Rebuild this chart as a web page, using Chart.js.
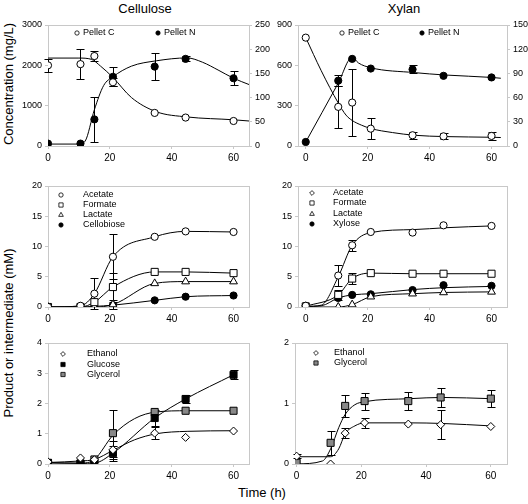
<!DOCTYPE html>
<html>
<head>
<meta charset="utf-8">
<script src="https://cdn.jsdelivr.net/npm/chart.js@4.4.0/dist/chart.umd.min.js"></script>
<style>
  body { margin: 0; background: #fff; width: 528px; height: 504px; overflow: hidden; position: relative;
         font-family: "Liberation Sans", Arial, sans-serif; }
  canvas { position: absolute; }
  .lbl { position: absolute; font-size: 13px; color: #000; white-space: nowrap; transform: translate(-50%, -50%); }
  .rot { transform: translate(-50%, -50%) rotate(-90deg); }
</style>
</head>
<body>
<div class="lbl" style="left:145px;top:8px">Cellulose</div>
<div class="lbl" style="left:404px;top:8px">Xylan</div>
<div class="lbl rot" style="left:8px;top:84px">Concentration (mg/L)</div>
<div class="lbl rot" style="left:8px;top:333px">Product or intermediate (mM)</div>
<div class="lbl" style="left:262px;top:492px">Time (h)</div>
<script>
// sampling times (h)
const times = [0, 10.5, 15, 21, 34.5, 44.5, 60];
const xTicks = [0, 20, 40, 60];

// Cellulose - pellet (left axis mg/L C, right axis mg/L N)
const celPelletC = [2000, 2030, 2230, 1580, 820, 705, 620];
const celPelletCErr = [155, 365, 130, 100, 0, 0, 0];
const celPelletN = [5, 5, 55, 143, 164, 180, 140];
const celPelletNErr = [0, 0, 47, 20, 28, 5, 14];
const celFitCx = [0, 10, 14, 17, 21, 27, 35, 45, 60, 65];
const celFitCy = [2180, 2180, 2150, 1980, 1700, 1200, 850, 720, 650, 620];
const celFitNx = [0, 10, 12, 15, 18, 21, 27, 35, 45, 50, 55, 60, 65];
const celFitNy = [4, 4, 10, 75, 125, 143, 165, 176, 182, 173, 157, 140, 127];

// Xylan - pellet
const xylPelletC = [806, 291, 323, 129, 80, 72, 75];
const xylPelletCErr = [0, 158, 250, 77, 25, 22, 30];
const xylPelletN = [5, 81, 108, 96, 95, 87, 85];
const xylPelletNErr = [0, 7, 0, 0, 5, 0, 0];
const xylFitCx = [0, 5, 10.5, 13, 15, 18, 21, 28, 35, 45, 60, 63];
const xylFitCy = [806, 560, 320, 230, 190, 155, 130, 100, 80, 70, 65, 63];
const xylFitNx = [0, 10.5, 15, 17, 21, 35, 45, 60, 63];
const xylFitNy = [5, 78, 110, 103, 97, 91, 88, 85, 84];

// Cellulose - acids (mM)
const celAcetate = [0, 0.2, 2.2, 8.3, 11.6, 12.5, 12.4];
const celAcetateErr = [0, 0, 2.6, 3.7, 0, 0, 0];
const celFormate = [0, 0, 0.8, 3.3, 5.8, 5.8, 5.6];
const celFormateErr = [0, 0, 0, 2.4, 0, 0, 0];
const celLactate = [0, 0, 0, 0.4, 3.9, 4.2, 4.2];
const celLactateErr = [0, 0, 0, 0.8, 0, 0, 0];
const celCellobiose = [0, 0, 0.1, 0.3, 1.1, 1.7, 1.9];

// Xylan - acids (mM)
const xylAcetate = [0.2, 5.2, 10.2, 12.4, 12.3, 13.5, 13.4];
const xylAcetateErr = [0, 1.8, 0.9, 0, 0, 0, 0];
const xylAcetateFitX = [0, 5, 10.5, 15, 21, 35, 45, 60];
const xylAcetateFitY = [0.1, 0.3, 5.0, 10.2, 12.3, 12.8, 13.1, 13.4];
const xylFormate = [0.1, 2.0, 4.7, 5.6, 5.5, 5.5, 5.5];
const xylFormateErr = [0, 0.8, 0.9, 0, 0, 0, 0];
const xylLactate = [0, 0, 0.4, 1.7, 2.2, 2.4, 2.5];
const xylXylose = [0.2, 1.5, 2.0, 2.1, 2.8, 3.6, 3.5];
const xylXyloseFitX = [0, 5, 10.5, 15, 21, 35, 45, 60];
const xylXyloseFitY = [0.1, 0.2, 1.5, 2.0, 2.2, 2.9, 3.2, 3.4];

// Cellulose - ethanol, glucose, glycerol (mM)
const celEthanol = [0.07, 0.2, 0.14, 0.47, 1.02, 0.88, 1.09];
const celEthanolErr = [0, 0, 0, 0.3, 0.2, 0, 0];
const celEthanolFitX = [0, 10.5, 15, 21, 28, 35, 45, 60];
const celEthanolFitY = [0.05, 0.1, 0.15, 0.45, 0.8, 1.0, 1.08, 1.1];
const celGlucose = [0.03, 0.02, 0.03, 0.36, 1.52, 2.15, 2.95];
const celGlucoseErr = [0, 0, 0, 0.25, 0.25, 0.12, 0.15];
const celGlycerol = [0.04, 0.01, 0.15, 1.02, 1.72, 1.76, 1.76];
const celGlycerolErr = [0, 0, 0, 0.78, 0, 0, 0];
const celGlycerolFitX = [0, 10.5, 15, 21, 28, 35, 45, 60];
const celGlycerolFitY = [0.05, 0.03, 0.15, 0.95, 1.5, 1.72, 1.76, 1.76];

// Xylan - ethanol, glycerol (mM)
const xylEthanol = [0.13, 0.0, 0.51, 0.68, 0.66, 0.65, 0.62];
const xylEthanolErr = [0.03, 0, 0.08, 0.08, 0, 0.24, 0];
const xylEthanolFitX = [0, 10.5, 13, 15, 18, 21, 35, 45, 60];
const xylEthanolFitY = [0.12, 0.12, 0.25, 0.5, 0.63, 0.68, 0.68, 0.67, 0.63];
const xylGlycerol = [0.02, 0.35, 0.96, 1.04, 1.04, 1.10, 1.08];
const xylGlycerolErr = [0, 0.2, 0.18, 0.14, 0.15, 0.15, 0.14];
const xylGlycerolFitX = [0, 8, 10.5, 13, 15, 18, 21, 35, 45, 60];
const xylGlycerolFitY = [0.0, 0.05, 0.25, 0.6, 0.82, 0.98, 1.03, 1.08, 1.1, 1.08];

// layout constants
const LW = 46, RW = 28, PT = 10, XH = 22;
const AXIS = '#c8c8c8';
const FONT = '"Liberation Sans", Arial, sans-serif';

const markers = {
    oc: { pointStyle: 'circle', bg: '#fff', r: 3.6 },
    fc: { pointStyle: 'circle', bg: '#000', r: 3.6 },
    os: { pointStyle: 'rect', bg: '#fff', r: 5 },
    fs: { pointStyle: 'rect', bg: '#000', r: 5 },
    gs: { pointStyle: 'rect', bg: '#888', r: 5 },
    ot: { pointStyle: 'triangle', bg: '#fff', r: 4.5 },
    od: { pointStyle: 'rectRot', bg: '#fff', r: 4 }
};

function pts(xs, ys) {
    return xs.map((x, i) => ({ x: x, y: ys[i] }));
}

// error bars drawn behind the markers
const errorBars = {
    id: 'errorBars',
    beforeDatasetsDraw(chart) {
        const ctx = chart.ctx;
        ctx.save();
        ctx.strokeStyle = '#000';
        ctx.lineWidth = 1;
        chart.data.datasets.forEach(ds => {
            if (!ds.errors) return;
            const ys = chart.scales[ds.yAxisID], xs = chart.scales.x;
            ds.data.forEach((p, i) => {
                const e = ds.errors[i];
                if (!e) return;
                const x = Math.round(xs.getPixelForValue(p.x)) + 0.5;
                const y1 = Math.round(ys.getPixelForValue(p.y + e)) + 0.5;
                const y2 = Math.round(ys.getPixelForValue(p.y - e)) + 0.5;
                ctx.beginPath();
                ctx.moveTo(x, y1); ctx.lineTo(x, y2);
                ctx.moveTo(x - 4, y1); ctx.lineTo(x + 4, y1);
                ctx.moveTo(x - 4, y2); ctx.lineTo(x + 4, y2);
                ctx.stroke();
            });
        });
        ctx.restore();
    }
};

// light frame around each plot area
const frame = {
    id: 'frame',
    beforeDatasetsDraw(chart) {
        const a = chart.chartArea, ctx = chart.ctx;
        ctx.save();
        ctx.strokeStyle = AXIS;
        ctx.lineWidth = 1;
        ctx.strokeRect(Math.round(a.left) + 0.5, Math.round(a.top) + 0.5,
                       Math.round(a.right - a.left), Math.round(a.bottom - a.top));
        ctx.restore();
    }
};

// small in-plot legend
const miniLegend = {
    id: 'miniLegend',
    afterDraw(chart, args, opts) {
        if (!opts.items) return;
        const a = chart.chartArea, ctx = chart.ctx;
        ctx.save();
        opts.items.forEach(it => {
            const m = markers[it.style];
            ctx.fillStyle = m.bg;
            ctx.strokeStyle = '#000';
            ctx.lineWidth = 0.8;
            Chart.helpers.drawPoint(ctx, { pointStyle: m.pointStyle, radius: m.r * 0.6, rotation: 0, borderWidth: 0.8 },
                a.left + it.mx, a.top + it.y);
            ctx.fillStyle = '#000';
            ctx.font = '9px ' + FONT;
            ctx.textBaseline = 'middle';
            ctx.fillText(it.text, a.left + it.tx, a.top + it.y);
        });
        ctx.restore();
    }
};

function yScale(ticks, max, pos, width) {
    return {
        type: 'linear', position: pos, min: 0, max: max,
        afterBuildTicks: s => { s.ticks = ticks.map(v => ({ value: v })); },
        afterFit: s => { s.width = width; },
        grid: { drawOnChartArea: false, color: AXIS, tickLength: 3 },
        border: { color: AXIS },
        ticks: { color: '#000', padding: 3, font: { size: 9, family: FONT }, callback: v => String(v) }
    };
}

function makePanel(box, xMin, left, right, series, legendItems) {
    const c = document.createElement('canvas');
    const w = box.r - box.l + LW + RW, h = box.b - box.t + PT + XH;
    c.width = w; c.height = h;
    c.style.left = (box.l - LW) + 'px';
    c.style.top = (box.t - PT) + 'px';
    c.style.width = w + 'px';
    c.style.height = h + 'px';
    document.body.appendChild(c);

    const datasets = [];
    series.forEach(s => {
        const m = markers[s.style];
        const axis = s.right ? 'y2' : 'y';
        datasets.push({
            type: 'line', data: pts(s.fitX || times, s.fitY || s.values), yAxisID: axis,
            borderColor: '#000', borderWidth: 1, pointRadius: 0, fill: false,
            cubicInterpolationMode: 'monotone', order: 2
        });
        datasets.push({
            type: 'scatter', data: pts(times, s.values), yAxisID: axis, errors: s.err,
            pointStyle: m.pointStyle, pointRadius: m.r, pointBackgroundColor: m.bg,
            pointBorderColor: '#000', pointBorderWidth: 1, order: 1
        });
    });

    const scales = {
        x: {
            type: 'linear', min: xMin, max: 65,
            afterBuildTicks: s => { s.ticks = xTicks.map(v => ({ value: v })); },
            afterFit: s => { s.height = XH; },
            grid: { drawOnChartArea: false, color: AXIS, tickLength: 3 },
            border: { color: AXIS },
            ticks: { color: '#000', padding: 3, maxRotation: 0, font: { size: 10, family: FONT }, callback: v => String(v) }
        },
        y: yScale(left.ticks, left.max, 'left', LW)
    };
    if (right) scales.y2 = yScale(right.ticks, right.max, 'right', RW);

    new Chart(c, {
        type: 'line',
        data: { datasets: datasets },
        options: {
            responsive: false,
            animation: false,
            layout: { padding: { top: PT, right: right ? 0 : RW, left: 0, bottom: 0 } },
            scales: scales,
            plugins: {
                legend: { display: false },
                tooltip: { enabled: false },
                miniLegend: { items: legendItems }
            }
        },
        plugins: [frame, errorBars, miniLegend]
    });
}

// Cellulose pellet
makePanel({ l: 48, r: 249, t: 25, b: 146 }, 0,
    { ticks: [0, 1000, 2000, 3000], max: 3000 }, { ticks: [0, 50, 100, 150, 200, 250], max: 250 },
    [
        { values: celPelletC, err: celPelletCErr, fitX: celFitCx, fitY: celFitCy, style: 'oc' },
        { values: celPelletN, err: celPelletNErr, fitX: celFitNx, fitY: celFitNy, style: 'fc', right: true }
    ],
    [
        { text: 'Pellet C', style: 'oc', mx: 29, tx: 35, y: 8 },
        { text: 'Pellet N', style: 'fc', mx: 110, tx: 116, y: 8 }
    ]);

// Xylan pellet
makePanel({ l: 298, r: 507, t: 25, b: 146 }, -2.5,
    { ticks: [0, 300, 600, 900], max: 900 }, { ticks: [0, 30, 60, 90, 120, 150], max: 150 },
    [
        { values: xylPelletC, err: xylPelletCErr, fitX: xylFitCx, fitY: xylFitCy, style: 'oc' },
        { values: xylPelletN, err: xylPelletNErr, fitX: xylFitNx, fitY: xylFitNy, style: 'fc', right: true }
    ],
    [
        { text: 'Pellet C', style: 'oc', mx: 44, tx: 50, y: 8 },
        { text: 'Pellet N', style: 'fc', mx: 124, tx: 130, y: 8 }
    ]);

// Cellulose acids
makePanel({ l: 48, r: 249, t: 186, b: 307 }, 0,
    { ticks: [0, 5, 10, 15, 20], max: 20 }, null,
    [
        { values: celAcetate, err: celAcetateErr, style: 'oc' },
        { values: celFormate, err: celFormateErr, style: 'os' },
        { values: celLactate, err: celLactateErr, style: 'ot' },
        { values: celCellobiose, style: 'fc' }
    ],
    [
        { text: 'Acetate', style: 'oc', mx: 13, tx: 35, y: 9 },
        { text: 'Formate', style: 'os', mx: 13, tx: 35, y: 19 },
        { text: 'Lactate', style: 'ot', mx: 13, tx: 35, y: 29 },
        { text: 'Cellobiose', style: 'fc', mx: 13, tx: 35, y: 39 }
    ]);

// Xylan acids
makePanel({ l: 298, r: 507, t: 186, b: 307 }, -2.5,
    { ticks: [0, 5, 10, 15, 20], max: 20 }, null,
    [
        { values: xylAcetate, err: xylAcetateErr, fitX: xylAcetateFitX, fitY: xylAcetateFitY, style: 'oc' },
        { values: xylFormate, err: xylFormateErr, style: 'os' },
        { values: xylLactate, style: 'ot' },
        { values: xylXylose, fitX: xylXyloseFitX, fitY: xylXyloseFitY, style: 'fc' }
    ],
    [
        { text: 'Acetate', style: 'od', mx: 14, tx: 35, y: 7 },
        { text: 'Formate', style: 'os', mx: 14, tx: 35, y: 17 },
        { text: 'Lactate', style: 'ot', mx: 14, tx: 35, y: 28 },
        { text: 'Xylose', style: 'fc', mx: 14, tx: 35, y: 38 }
    ]);

// Cellulose ethanol / glucose / glycerol
makePanel({ l: 48, r: 249, t: 343, b: 464 }, 0,
    { ticks: [0, 1, 2, 3, 4], max: 4 }, null,
    [
        { values: celEthanol, err: celEthanolErr, fitX: celEthanolFitX, fitY: celEthanolFitY, style: 'od' },
        { values: celGlucose, err: celGlucoseErr, style: 'fs' },
        { values: celGlycerol, err: celGlycerolErr, fitX: celGlycerolFitX, fitY: celGlycerolFitY, style: 'gs' }
    ],
    [
        { text: 'Ethanol', style: 'od', mx: 15, tx: 39, y: 11 },
        { text: 'Glucose', style: 'fs', mx: 15, tx: 39, y: 21.5 },
        { text: 'Glycerol', style: 'gs', mx: 15, tx: 39, y: 31.5 }
    ]);

// Xylan ethanol / glycerol
makePanel({ l: 295, r: 507, t: 343, b: 464 }, -0.5,
    { ticks: [0, 1, 2], max: 2 }, null,
    [
        { values: xylEthanol, err: xylEthanolErr, fitX: xylEthanolFitX, fitY: xylEthanolFitY, style: 'od' },
        { values: xylGlycerol, err: xylGlycerolErr, fitX: xylGlycerolFitX, fitY: xylGlycerolFitY, style: 'gs' }
    ],
    [
        { text: 'Ethanol', style: 'od', mx: 21, tx: 39, y: 10 },
        { text: 'Glycerol', style: 'gs', mx: 21, tx: 39, y: 20 }
    ]);
</script>
</body>
</html>
